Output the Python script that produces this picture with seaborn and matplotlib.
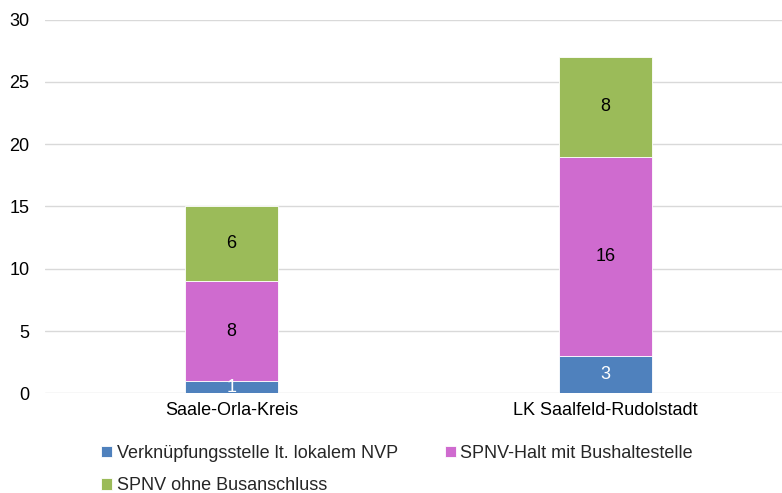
import pandas as pd
import numpy as np
import matplotlib
matplotlib.use('Agg')
import matplotlib.pyplot as plt
import seaborn as sns

# Daten
kreise = ['Saale-Orla-Kreis', 'LK Saalfeld-Rudolstadt']
serien = ['Verknüpfungsstelle lt. lokalem NVP', 'SPNV-Halt mit Bushaltestelle', 'SPNV ohne Busanschluss']
verknuepfung = [1, 3]
spnv_bus = [8, 16]
spnv_ohne = [6, 8]
farben = ['#4F81BD', '#CF6BCF', '#9BBB59']
textfarben = ['white', 'black', 'black']

sns.set_style('white')
plt.rcParams['font.family'] = ['Liberation Sans', 'DejaVu Sans']
plt.rcParams['font.size'] = 13

data = pd.DataFrame({'kreis': kreise,
                     serien[0]: verknuepfung,
                     serien[1]: spnv_bus,
                     serien[2]: spnv_ohne})

fig = plt.figure(figsize=(7.82, 4.93), dpi=100)
ax = fig.add_axes([44.7 / 782, 1 - 393.3 / 493, 1 - 44.7 / 782, (393.3 - 19.7) / 493])

unten = np.zeros(len(kreise))
for s, f, tf in zip(serien, farben, textfarben):
    werte = data[s].to_numpy()
    sns.barplot(data=data, x='kreis', y=s, color=f, saturation=1, width=0.249, bottom=unten,
                edgecolor='white', linewidth=0.6, label=s, ax=ax, zorder=3)
    for i, v in enumerate(werte):
        ax.text(i, unten[i] + v / 2, str(v), ha='center', va='center',
                color=tf, fontsize=13, zorder=4)
    unten = unten + werte

ax.set_ylim(0, 30)
ax.set_yticks(range(0, 31, 5))
ax.set_xlim(-0.5, 1 + (782 - 605.5) / 374)
ax.yaxis.grid(True, color='#D9D9D9', linewidth=1, zorder=0)
ax.set_axisbelow(True)
for sp in ax.spines.values():
    sp.set_visible(False)
ax.set_xlabel('')
ax.set_ylabel('')
ax.tick_params(axis='both', length=0, labelsize=13, colors='black')
ax.tick_params(axis='y', pad=11)
ax.tick_params(axis='x', pad=6)

handles, labels = ax.get_legend_handles_labels()
if ax.legend_:
    ax.legend_.remove()
# Reihenfolge zeilenweise wie im Original
order = [0, 2, 1]
fig.legend([handles[i] for i in order], [labels[i] for i in order], ncol=2, loc='upper left',
           bbox_to_anchor=(101 / 782, 1 - 445 / 493), frameon=False, fontsize=13,
           handlelength=0.62, handleheight=0.62, handletextpad=0.25,
           columnspacing=2.6, labelspacing=0.85, borderaxespad=0, borderpad=0)

fig.savefig('out.png', dpi=100)
